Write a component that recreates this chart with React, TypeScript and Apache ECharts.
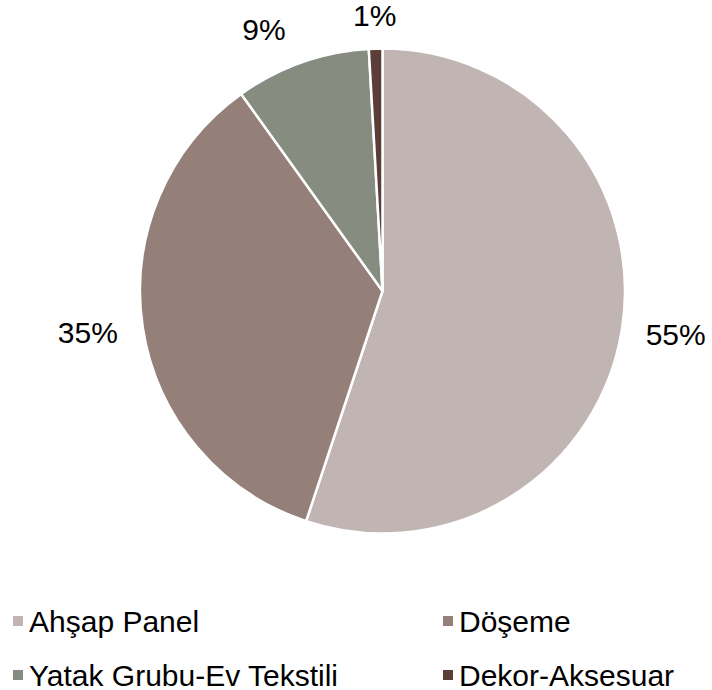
import React, { useEffect, useRef } from "react";
import * as echarts from "echarts";

const categories = ["Ahşap Panel", "Döşeme", "Yatak Grubu-Ev Tekstili", "Dekor-Aksesuar"];
const values = [55.1, 35.0, 9.0, 0.9];
const colors = ["#C0B5B2", "#947F79", "#878C81", "#5B3E38"];
const labelDist = [297, 298, 287, 275];
const labelShift = [[0, -4], [0, -3], [-23, 9], [0, -1]];

const CX = 382.5;
const CY = 291;
const R = 242.5;

export default function App() {
  const ref = useRef<HTMLDivElement>(null);
  useEffect(() => {
    if (!ref.current) return;
    const chart = echarts.init(ref.current, null, { renderer: "svg" });
    const total = values.reduce((a, b) => a + b, 0);
    const mids: number[] = [];
    let acc = 0;
    values.forEach((v) => {
      mids.push(((acc + v / 2) / total) * 2 * Math.PI);
      acc += v;
    });
    const legendText = {
      fontFamily: "Liberation Sans, Arial, sans-serif",
      fontSize: 30,
      lineHeight: 30,
      color: "#000",
    };
    chart.setOption({
      animation: false,
      backgroundColor: "#ffffff",
      color: colors,
      legend: [
        {
          orient: "vertical",
          left: 11,
          top: 606,
          height: 200,
          padding: 0,
          itemWidth: 12,
          itemHeight: 12,
          itemGap: 24,
          icon: "rect",
          data: [categories[0], categories[2]],
          textStyle: legendText,
        },
        {
          orient: "vertical",
          left: 441,
          top: 606,
          height: 200,
          padding: 0,
          itemWidth: 12,
          itemHeight: 12,
          itemGap: 24,
          icon: "rect",
          data: [categories[1], categories[3]],
          textStyle: legendText,
        },
      ],
      series: [
        {
          type: "pie",
          center: [CX, CY],
          radius: [0, R],
          startAngle: 90,
          clockwise: true,
          avoidLabelOverlap: false,
          itemStyle: { borderColor: "#ffffff", borderWidth: 2.5 },
          emphasis: { disabled: true },
          label: {
            show: true,
            position: "outside",
            fontFamily: "Liberation Sans, Arial, sans-serif",
            fontSize: 30,
            color: "#000",
            formatter: (p: any) => Math.round(p.value) + "%",
          },
          labelLine: { show: false },
          labelLayout: (p: any) => {
            const i = p.dataIndex;
            const a = mids[i];
            const d = labelDist[i];
            return {
              x: CX + Math.sin(a) * d + labelShift[i][0],
              y: CY - Math.cos(a) * d + labelShift[i][1],
              align: "center",
              verticalAlign: "middle",
            };
          },
          data: categories.map((name, i) => ({ name, value: values[i] })),
        },
      ],
    });
    return () => chart.dispose();
  }, []);
  return (
    <div
      ref={ref}
      style={{ position: "fixed", left: 0, top: 0, width: 712, height: 690, background: "#fff" }}
    />
  );
}
